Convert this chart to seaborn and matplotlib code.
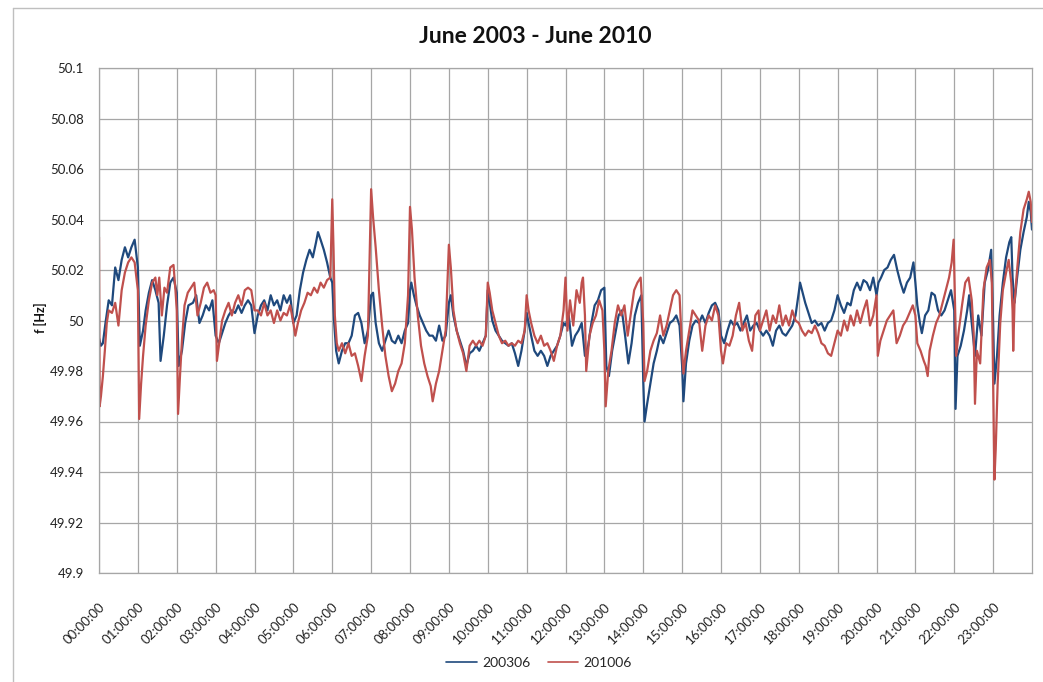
"""Grid frequency profile, June 2003 vs June 2010."""

import matplotlib
matplotlib.use("Agg")
import matplotlib.pyplot as plt
from matplotlib.lines import Line2D
import pandas as pd
import seaborn as sns

sns.set_style("white")
plt.rcParams["font.family"] = ["Lato", "DejaVu Sans"]

# --- Data (time of day, frequency in Hz) ---
blue_time = [
    "00:00", "00:03", "00:06", "00:10", "00:15", "00:20", "00:25", "00:30", "00:35", "00:40", "00:45", "00:50", "00:55",
    "01:00", "01:03", "01:08", "01:12", "01:17", "01:22", "01:27", "01:32", "01:35", "01:40", "01:45", "01:50", "01:55",
    "02:00", "02:03", "02:08", "02:13", "02:18", "02:25", "02:30", "02:35", "02:40", "02:45", "02:50", "02:55",
    "03:00", "03:05", "03:10", "03:15", "03:20", "03:25", "03:30", "03:35", "03:40", "03:45", "03:50", "03:55",
    "04:00", "04:05", "04:10", "04:15", "04:20", "04:25", "04:30", "04:35", "04:40", "04:45", "04:50", "04:55",
    "05:00", "05:05", "05:10", "05:15", "05:20", "05:25", "05:30", "05:35", "05:38", "05:42", "05:47", "05:52", "05:57",
    "06:00", "06:03", "06:06", "06:10", "06:15", "06:20", "06:25", "06:30", "06:35", "06:40", "06:45", "06:50", "06:55",
    "07:00", "07:03", "07:07", "07:12", "07:17", "07:22", "07:27", "07:32", "07:37", "07:42", "07:47", "07:52", "07:57",
    "08:00", "08:02", "08:06", "08:10", "08:15", "08:20", "08:25", "08:30", "08:35", "08:40", "08:45", "08:50", "08:55",
    "09:00", "09:03", "09:07", "09:12", "09:17", "09:22", "09:27", "09:32", "09:37", "09:42", "09:47", "09:52", "09:57",
    "10:00", "10:03", "10:07", "10:12", "10:17", "10:22", "10:27", "10:32", "10:37", "10:42", "10:47", "10:52", "10:57",
    "11:00", "11:03", "11:07", "11:12", "11:17", "11:22", "11:27", "11:32", "11:37", "11:42", "11:47", "11:52", "11:57",
    "12:00", "12:05", "12:10", "12:15", "12:20", "12:25", "12:30", "12:35", "12:40", "12:45", "12:50", "12:55",
    "13:00", "13:03", "13:07", "13:12", "13:17", "13:22", "13:27", "13:32", "13:37", "13:42", "13:47", "13:52", "13:57",
    "14:00", "14:02", "14:06", "14:11", "14:16", "14:21", "14:26", "14:31", "14:36", "14:41", "14:46", "14:51", "14:56",
    "15:00", "15:02", "15:06", "15:11", "15:16", "15:21", "15:26", "15:31", "15:36", "15:41", "15:46", "15:51", "15:56",
    "16:00", "16:05", "16:10", "16:15", "16:20", "16:25", "16:30", "16:35", "16:40", "16:45", "16:50", "16:55",
    "17:00", "17:05", "17:10", "17:15", "17:20", "17:25", "17:30", "17:35", "17:40", "17:45", "17:50", "17:55",
    "18:00", "18:02", "18:05", "18:10", "18:15", "18:20", "18:25", "18:30", "18:35", "18:40", "18:45", "18:50", "18:55",
    "19:00", "19:05", "19:10", "19:15", "19:20", "19:25", "19:30", "19:35", "19:40", "19:45", "19:50", "19:55",
    "20:00", "20:03", "20:07", "20:12", "20:17", "20:22", "20:27", "20:32", "20:37", "20:42", "20:47", "20:52", "20:57",
    "21:00", "21:03", "21:07", "21:10", "21:15", "21:20", "21:25", "21:30", "21:35", "21:40", "21:45", "21:50", "21:55",
    "22:00", "22:02", "22:05", "22:10", "22:15", "22:20", "22:23", "22:27", "22:32", "22:37", "22:42", "22:47", "22:52", "22:57",
    "23:00", "23:02", "23:06", "23:10", "23:15", "23:20", "23:25", "23:28", "23:30", "23:33", "23:37", "23:42", "23:47",
    "23:52", "23:55", "23:58", "24:00",
]
blue_freq = [
    49.993, 49.990, 49.991, 49.999, 50.008, 50.006, 50.021, 50.016, 50.024, 50.029, 50.025, 50.029, 50.032,
    50.021, 49.990, 49.996, 50.004, 50.011, 50.016, 50.012, 50.007, 49.984, 49.994, 50.006, 50.015, 50.017,
    50.011, 49.982, 49.988, 49.999, 50.006, 50.007, 50.010, 49.999, 50.002, 50.006, 50.004, 50.008,
    49.994, 49.991, 49.995, 49.999, 50.002, 50.004, 50.003, 50.006, 50.003, 50.006, 50.008, 50.006,
    49.995, 50.002, 50.006, 50.008, 50.004, 50.010, 50.006, 50.008, 50.004, 50.010, 50.007, 50.010,
    49.999, 50.002, 50.012, 50.019, 50.024, 50.028, 50.025, 50.031, 50.035, 50.032, 50.028, 50.023, 50.017,
    50.015, 49.999, 49.988, 49.983, 49.988, 49.991, 49.991, 49.994, 50.002, 50.003, 49.999, 49.991, 49.996,
    50.010, 50.011, 49.999, 49.991, 49.988, 49.992, 49.996, 49.992, 49.991, 49.994, 49.991, 49.996, 49.999,
    50.012, 50.015, 50.010, 50.006, 50.002, 49.999, 49.996, 49.994, 49.994, 49.992, 49.998, 49.992, 49.994,
    50.007, 50.010, 50.002, 49.996, 49.992, 49.988, 49.982, 49.987, 49.988, 49.990, 49.988, 49.991, 49.994,
    50.012, 50.007, 50.000, 49.996, 49.994, 49.992, 49.991, 49.990, 49.991, 49.987, 49.982, 49.988, 49.996,
    50.003, 49.999, 49.994, 49.988, 49.986, 49.988, 49.986, 49.982, 49.986, 49.988, 49.990, 49.994, 49.999,
    49.998, 50.002, 49.990, 49.994, 49.996, 49.999, 49.986, 49.990, 49.999, 50.006, 50.008, 50.012,
    50.013, 49.982, 49.978, 49.988, 49.995, 50.002, 50.004, 49.994, 49.983, 49.991, 50.002, 50.007, 50.010,
    49.976, 49.960, 49.967, 49.975, 49.983, 49.988, 49.994, 49.991, 49.995, 49.999, 50.000, 50.002, 49.998,
    49.982, 49.968, 49.983, 49.992, 49.998, 50.000, 49.999, 50.002, 49.999, 50.003, 50.006, 50.007, 50.004,
    49.994, 49.991, 49.996, 50.000, 49.998, 49.999, 49.996, 49.999, 50.002, 49.996, 49.998, 49.999,
    49.996, 49.994, 49.996, 49.994, 49.990, 49.996, 49.998, 49.995, 49.994, 49.996, 49.998, 50.002,
    50.011, 50.015, 50.012, 50.007, 50.003, 49.999, 50.000, 49.998, 49.999, 49.996, 49.999, 50.000, 50.004,
    50.010, 50.006, 50.003, 50.007, 50.006, 50.012, 50.015, 50.012, 50.016, 50.015, 50.012, 50.017,
    50.010, 50.015, 50.017, 50.020, 50.021, 50.024, 50.026, 50.020, 50.015, 50.011, 50.015, 50.017, 50.023,
    50.015, 50.006, 49.999, 49.995, 50.002, 50.004, 50.011, 50.010, 50.004, 50.002, 50.004, 50.008, 50.012,
    50.004, 49.965, 49.986, 49.990, 49.996, 50.004, 50.010, 49.999, 49.986, 50.002, 49.994, 50.015, 50.020, 50.028,
    49.999, 49.975, 49.986, 50.002, 50.015, 50.025, 50.031, 50.033, 50.017, 50.007, 50.017, 50.028, 50.035,
    50.041, 50.047, 50.043, 50.036,
]

red_time = [
    "00:00", "00:01", "00:03", "00:06", "00:09", "00:12", "00:15", "00:20", "00:25", "00:30", "00:35", "00:40", "00:45", "00:50", "00:55",
    "01:00", "01:02", "01:05", "01:08", "01:12", "01:17", "01:22", "01:27", "01:30", "01:33", "01:37", "01:41", "01:45", "01:50", "01:55", "01:58",
    "02:00", "02:02", "02:05", "02:08", "02:12", "02:17", "02:22", "02:27", "02:32", "02:37", "02:42", "02:47", "02:52", "02:57",
    "03:00", "03:02", "03:06", "03:10", "03:15", "03:20", "03:25", "03:30", "03:35", "03:40", "03:45", "03:50", "03:55",
    "04:00", "04:05", "04:10", "04:15", "04:20", "04:25", "04:30", "04:35", "04:40", "04:45", "04:50", "04:55",
    "05:00", "05:03", "05:07", "05:12", "05:17", "05:22", "05:27", "05:32", "05:37", "05:42", "05:47", "05:52", "05:57",
    "06:00", "06:02", "06:04", "06:07", "06:10", "06:15", "06:20", "06:25", "06:30", "06:35", "06:40", "06:45", "06:50", "06:55",
    "07:00", "07:03", "07:07", "07:12", "07:17", "07:22", "07:27", "07:32", "07:37", "07:42", "07:47", "07:52", "07:57",
    "08:00", "08:03", "08:07", "08:12", "08:17", "08:22", "08:27", "08:32", "08:35", "08:40", "08:45", "08:50", "08:55",
    "09:00", "09:03", "09:07", "09:12", "09:17", "09:22", "09:27", "09:32", "09:37", "09:42", "09:47", "09:52", "09:57",
    "10:00", "10:03", "10:07", "10:12", "10:17", "10:22", "10:27", "10:32", "10:37", "10:42", "10:47", "10:52", "10:57",
    "11:00", "11:03", "11:07", "11:12", "11:17", "11:22", "11:27", "11:32", "11:37", "11:42", "11:47", "11:52", "11:57",
    "12:00", "12:03", "12:07", "12:12", "12:17", "12:22", "12:25", "12:27", "12:30", "12:32", "12:37", "12:42", "12:47", "12:52", "12:57",
    "13:00", "13:02", "13:06", "13:11", "13:16", "13:21", "13:26", "13:31", "13:36", "13:41", "13:46", "13:51", "13:56",
    "14:00", "14:02", "14:06", "14:11", "14:16", "14:21", "14:26", "14:31", "14:36", "14:41", "14:46", "14:51", "14:56",
    "15:00", "15:02", "15:06", "15:11", "15:16", "15:21", "15:26", "15:31", "15:36", "15:41", "15:46", "15:51", "15:56",
    "16:00", "16:03", "16:08", "16:13", "16:18", "16:23", "16:28", "16:33", "16:38", "16:43", "16:48", "16:53", "16:58",
    "17:00", "17:05", "17:10", "17:15", "17:20", "17:25", "17:30", "17:35", "17:40", "17:45", "17:50", "17:55",
    "18:00", "18:05", "18:10", "18:15", "18:20", "18:25", "18:30", "18:35", "18:40", "18:45", "18:50", "18:55",
    "19:00", "19:05", "19:10", "19:15", "19:20", "19:25", "19:30", "19:35", "19:40", "19:45", "19:50", "19:55",
    "20:00", "20:02", "20:06", "20:11", "20:16", "20:21", "20:26", "20:31", "20:36", "20:41", "20:46", "20:51", "20:56",
    "21:00", "21:03", "21:08", "21:13", "21:16", "21:19", "21:22", "21:27", "21:32", "21:37", "21:42", "21:47", "21:52", "21:56", "21:59",
    "22:01", "22:03", "22:07", "22:12", "22:17", "22:22", "22:27", "22:30", "22:32", "22:35", "22:40", "22:45", "22:50", "22:55", "22:58",
    "23:00", "23:02", "23:04", "23:07", "23:11", "23:15", "23:20", "23:24", "23:28", "23:30", "23:31", "23:33", "23:37",
    "23:42", "23:47", "23:52", "23:55", "23:58", "24:00",
]
red_freq = [
    50.033, 49.966, 49.970, 49.978, 49.988, 49.999, 50.004, 50.003, 50.007, 49.998, 50.012, 50.019, 50.023, 50.025, 50.023,
    50.012, 49.961, 49.975, 49.986, 49.998, 50.008, 50.015, 50.017, 50.010, 50.017, 50.002, 50.013, 50.011, 50.021, 50.022, 50.012,
    50.004, 49.963, 49.978, 49.992, 50.006, 50.011, 50.013, 50.015, 50.002, 50.007, 50.013, 50.015, 50.011, 50.012,
    50.010, 49.984, 49.992, 50.000, 50.004, 50.007, 50.002, 50.007, 50.010, 50.006, 50.012, 50.013, 50.012,
    50.004, 50.004, 50.002, 50.007, 50.002, 50.004, 49.999, 50.004, 50.000, 50.003, 50.002, 50.006,
    49.999, 49.994, 49.999, 50.004, 50.007, 50.011, 50.010, 50.013, 50.011, 50.015, 50.013, 50.016, 50.017,
    50.048, 50.028, 50.002, 49.991, 49.988, 49.991, 49.987, 49.991, 49.986, 49.987, 49.982, 49.976, 49.986, 49.994,
    50.052, 50.041, 50.029, 50.012, 49.998, 49.986, 49.978, 49.972, 49.975, 49.980, 49.983, 49.991, 50.010,
    50.045, 50.036, 50.017, 50.002, 49.990, 49.983, 49.978, 49.974, 49.968, 49.975, 49.980, 49.988, 49.996,
    50.030, 50.021, 50.004, 49.996, 49.991, 49.987, 49.980, 49.990, 49.992, 49.990, 49.992, 49.990, 49.994,
    50.015, 50.011, 50.004, 49.999, 49.994, 49.991, 49.992, 49.990, 49.991, 49.990, 49.992, 49.991, 49.996,
    50.010, 50.004, 49.999, 49.994, 49.991, 49.994, 49.990, 49.991, 49.988, 49.984, 49.990, 49.994, 50.004,
    50.017, 49.996, 50.008, 49.998, 50.012, 50.007, 50.015, 50.017, 50.002, 49.980, 49.994, 49.999, 50.002, 50.008, 50.004,
    49.988, 49.966, 49.980, 49.988, 49.999, 50.006, 50.002, 50.006, 49.994, 50.003, 50.012, 50.015, 50.017,
    49.999, 49.976, 49.980, 49.988, 49.992, 49.995, 50.002, 49.994, 49.998, 50.004, 50.010, 50.012, 50.010,
    49.988, 49.979, 49.988, 49.996, 50.004, 50.002, 50.000, 49.988, 49.998, 50.002, 50.000, 50.006, 50.002,
    49.988, 49.983, 49.991, 49.990, 49.994, 50.002, 50.007, 49.996, 49.999, 49.992, 49.988, 50.002, 50.004,
    49.996, 50.000, 50.004, 49.996, 50.002, 49.999, 50.006, 49.998, 50.002, 49.998, 50.004, 50.000,
    49.999, 49.996, 49.994, 49.996, 49.995, 49.998, 49.995, 49.991, 49.990, 49.987, 49.986, 49.991,
    49.996, 49.994, 50.000, 49.996, 50.002, 49.998, 50.004, 49.999, 50.004, 50.008, 49.998, 50.002,
    50.010, 49.986, 49.992, 49.996, 50.000, 50.002, 50.004, 49.991, 49.994, 49.998, 50.000, 50.003, 50.006,
    50.002, 49.991, 49.988, 49.984, 49.982, 49.978, 49.988, 49.994, 49.999, 50.002, 50.007, 50.012, 50.017, 50.023, 50.032,
    50.008, 49.986, 49.996, 50.006, 50.015, 50.017, 50.008, 49.995, 49.967, 49.988, 49.983, 50.012, 50.021, 50.024, 50.015,
    49.975, 49.937, 49.949, 49.975, 49.999, 50.012, 50.019, 50.024, 50.015, 50.004, 49.988, 50.007, 50.020,
    50.035, 50.044, 50.048, 50.051, 50.047, 50.039,
]

SERIES = ["200306", "201006"]
COLORS = ["#1F497D", "#C0504D"]
HOUR_LABELS = [f"{h:02d}:00:00" for h in range(24)]
Y_TICKS = [49.9, 49.92, 49.94, 49.96, 49.98, 50, 50.02, 50.04, 50.06, 50.08, 50.1]
Y_LABELS = ["49.9", "49.92", "49.94", "49.96", "49.98", "50", "50.02", "50.04", "50.06", "50.08", "50.1"]


def to_hours(stamps):
    out = []
    for s in stamps:
        h, m = s.split(":")
        out.append(int(h) + int(m) / 60)
    return out


df = pd.concat([
    pd.DataFrame({"hours": to_hours(blue_time), "freq": blue_freq, "series": SERIES[0]}),
    pd.DataFrame({"hours": to_hours(red_time), "freq": red_freq, "series": SERIES[1]}),
], ignore_index=True)

W, H = 1043, 682
fig = plt.figure(figsize=(W / 100, H / 100), dpi=100)
ax = fig.add_axes([99 / W, 1 - 573 / H, (1032 - 99) / W, (573 - 68) / H])

sns.lineplot(
    data=df, x="hours", y="freq", hue="series",
    palette=dict(zip(SERIES, COLORS)), estimator=None, sort=False,
    linewidth=1.6, legend=False, ax=ax,
)

GRID = "#A6A6A6"
ax.set_xlim(0, 24)
ax.set_ylim(49.9, 50.1)
ax.set_xticks(range(24))
ax.set_xticklabels(HOUR_LABELS, rotation=45, ha="right", rotation_mode="anchor")
ax.set_yticks(Y_TICKS)
ax.set_yticklabels(Y_LABELS)
ax.set_xlabel("")
ax.set_ylabel("")
ax.grid(True, color=GRID, linewidth=0.9)
ax.set_axisbelow(True)
for sp in ax.spines.values():
    sp.set_color(GRID)
    sp.set_linewidth(0.9)
ax.tick_params(axis="both", colors=GRID, labelcolor="#222222", labelsize=9.5,
               length=5, width=0.9, direction="out")
ax.tick_params(axis="y", pad=6)
ax.tick_params(axis="x", pad=15)

fig.text(0.513, 0.947, "June 2003 - June 2010", ha="center", va="center",
         fontsize=16.5, fontweight="bold", color="#111111")
fig.text(0.039, 0.534, "f [Hz]", ha="center", va="center", rotation=90,
         fontsize=9, fontweight="bold", color="#111111")

handles = [Line2D([], [], color=c, linewidth=1.2) for c in COLORS]
fig.legend(handles, SERIES, loc="center", bbox_to_anchor=(0.517, 0.028), ncol=2,
           frameon=False, fontsize=10, handlelength=2.2, columnspacing=1.2,
           handletextpad=0.4)

# outer chart frame (only top and left edges fall inside the picture)
fig.add_artist(Line2D([13 / W, 13 / W], [0, 1 - 8 / H], transform=fig.transFigure,
                      color="#BFBFBF", linewidth=1))
fig.add_artist(Line2D([13 / W, 1], [1 - 8 / H, 1 - 8 / H], transform=fig.transFigure,
                      color="#BFBFBF", linewidth=1))

fig.savefig("out.png", dpi=100)
